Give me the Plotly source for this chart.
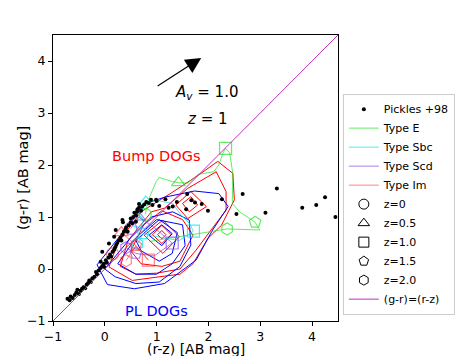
import plotly.graph_objects as go

# === DATA ===
# Pickles (1998) stellar library colours
pick_rz = [-0.72, -0.68, -0.66, -0.62, -0.58, -0.55, -0.53, -0.50, -0.47, -0.44, -0.41, -0.38,
           -0.35, -0.32, -0.30, -0.27, -0.24, -0.20, -0.17, -0.15, -0.12, -0.08, -0.05, -0.02,
           0.02, 0.04, 0.07, 0.10, 0.12, 0.15, 0.18, 0.20, 0.22, 0.24, 0.27, 0.30, 0.32, 0.34,
           0.37, 0.40, 0.41, 0.44, 0.46, 0.50, 0.50, 0.53, 0.55, 0.57, 0.60, 0.62, 0.63, 0.66,
           0.66, 0.70, 0.72, 0.76, 0.80, 0.85, 0.89, 0.92, 0.99, 1.00, 1.05, 1.17, 1.23, 1.31,
           1.39, 1.57, 1.59, 1.67, 1.74, 1.87, 1.99, 2.26, 2.54, 2.66, 3.10, 3.32, 3.81, 4.08,
           4.25, 4.45, 0.08, 0.18, 0.34, -0.05, 0.21, 0.35, 0.60, -0.08, -0.01]
pick_gr = [-0.57, -0.60, -0.53, -0.56, -0.50, -0.45, -0.40, -0.48, -0.42, -0.38, -0.35, -0.37,
           -0.30, -0.27, -0.22, -0.25, -0.18, -0.15, -0.06, -0.10, -0.03, 0.02, 0.06, 0.10,
           0.17, 0.12, 0.22, 0.28, 0.24, 0.33, 0.37, 0.42, 0.46, 0.50, 0.55, 0.60, 0.55, 0.66,
           0.72, 0.76, 0.80, 0.72, 0.84, 0.90, 0.97, 0.88, 1.00, 1.08, 1.03, 1.10, 1.15, 1.18,
           1.25, 1.12, 1.20, 1.24, 1.29, 1.27, 1.33, 1.23, 1.33, 1.31, 1.21, 1.34, 1.18, 1.20,
           1.29, 1.15, 1.44, 1.32, 1.28, 1.25, 1.12, 1.34, 1.06, 1.44, 1.08, 1.55, 1.18, 1.23,
           1.38, 1.00, 0.49, 0.62, 0.94, 0.33, 0.75, 0.90, 0.91, 0.14, 0.04]

# Bump DOGs density contours (outer -> inner)
bump_contours = [
    ([0.08, 0.25, 0.70, 1.28, 1.80, 2.18, 2.47, 2.50, 2.25, 1.99, 1.70, 1.45, 1.05, 0.53, 0.08],
     [0.04, 0.50, 1.10, 1.46, 1.80, 2.07, 1.84, 1.33, 0.84, 0.59, 0.10, -0.10, -0.15, -0.22, 0.04]),
    ([0.30, 0.45, 0.90, 1.15, 1.60, 2.15, 2.34, 2.34, 2.05, 1.75, 1.45, 1.00, 0.60, 0.30],
     [0.05, 0.55, 1.10, 1.17, 1.55, 1.87, 1.49, 1.13, 0.75, 0.35, 0.00, -0.08, -0.10, 0.05]),
    ([0.50, 0.75, 1.10, 1.50, 1.70, 1.45, 1.10, 0.70, 0.50],
     [0.35, 0.85, 1.12, 0.95, 0.65, 0.15, 0.05, 0.10, 0.35]),
    ([0.76, 1.12, 1.44, 1.12, 0.76], [0.65, 0.94, 0.62, 0.30, 0.65]),
    ([0.92, 1.10, 1.28, 1.10, 0.92], [0.66, 0.84, 0.66, 0.49, 0.66]),
    ([1.02, 1.10, 1.18, 1.10, 1.02], [0.66, 0.74, 0.66, 0.58, 0.66]),
    ([1.37, 1.66, 1.96, 1.60, 1.37], [1.23, 1.49, 1.20, 0.97, 1.23]),
    ([1.50, 1.66, 1.79, 1.63, 1.50], [1.26, 1.39, 1.23, 1.10, 1.26]),
]

# PL DOGs density contours (outer -> inner)
pl_contours = [
    ([-0.15, 0.30, 0.79, 1.15, 1.73, 2.20, 2.38, 2.08, 1.76, 1.15, 0.57, 0.05, -0.15],
     [0.08, 0.65, 1.26, 1.38, 1.50, 1.45, 1.20, 0.75, 0.17, -0.28, -0.38, -0.30, 0.08]),
    ([0.00, 0.50, 0.90, 1.31, 1.63, 1.66, 1.45, 1.05, 0.60, 0.20, 0.00],
     [0.00, 0.60, 1.00, 1.10, 0.94, 0.46, 0.05, -0.25, -0.28, -0.15, 0.00]),
    ([0.25, 0.60, 1.00, 1.50, 1.55, 1.30, 1.00, 0.60, 0.25],
     [0.10, 0.60, 0.95, 0.85, 0.45, 0.10, -0.10, -0.10, 0.10]),
    ([0.60, 1.05, 1.40, 1.30, 1.05, 0.70, 0.60], [0.55, 0.95, 0.70, 0.30, 0.15, 0.35, 0.55]),
    ([0.85, 1.10, 1.30, 1.10, 0.85], [0.65, 0.85, 0.68, 0.45, 0.65]),
]

# galaxy template tracks (r-z, g-r) and positions at z = 0, 0.5, 1.0, 1.5, 2.0
e_rz = [0.78, 0.84, 0.99, 1.05, 1.31, 1.42, 1.60, 1.80, 2.10, 2.20, 2.28, 2.33, 2.41, 2.47,
        2.46, 2.60, 2.90, 2.99, 2.36, 0.86]
e_gr = [1.05, 1.33, 1.68, 1.76, 1.68, 1.66, 1.65, 1.82, 1.87, 2.00, 2.23, 2.32, 2.23, 1.84,
        1.26, 1.10, 0.90, 0.75, 0.77, 0.53]
e_zx = [0.78, 1.42, 2.33, 2.90, 2.36]
e_zy = [1.05, 1.66, 2.32, 0.90, 0.77]

sbc_rz = [0.62, 0.79, 1.00, 1.31, 1.47, 1.63, 1.71, 1.44, 1.10, 0.74, 0.63]
sbc_gr = [0.92, 1.29, 1.32, 1.26, 1.04, 0.88, 0.73, 0.55, 0.60, 0.68, 0.48]
sbc_zx = [0.62, 0.79, 1.71, 0.74, 0.63]
sbc_zy = [0.92, 1.29, 0.73, 0.68, 0.48]

scd_rz = [0.50, 0.65, 0.95, 1.30, 0.95, 0.60, 0.41]
scd_gr = [0.78, 1.00, 0.80, 0.50, 0.25, 0.30, 0.41]
scd_zx = [0.50, 0.65, 1.30, 0.60, 0.41]
scd_zy = [0.78, 1.00, 0.50, 0.30, 0.41]

im_rz = [0.15, 0.32, 0.55, 0.84, 0.60, 0.41]
im_gr = [0.29, 0.70, 0.50, 0.17, 0.45, 0.16]
im_zx = [0.15, 0.32, 0.84, 0.60, 0.41]
im_zy = [0.29, 0.70, 0.17, 0.45, 0.16]

z_labels = ["z=0", "z=0.5", "z=1.0", "z=1.5", "z=2.0"]
z_symbols = ["circle-open", "triangle-up-open", "square-open", "pentagon-open", "hexagon-open"]

one_to_one = [-1, 4.5]

FONT = "DejaVu Sans"

fig = go.Figure()

# contours
for cx, cy in bump_contours:
    fig.add_trace(go.Scatter(x=cx, y=cy, mode="lines", line=dict(color="red", width=1),
                             showlegend=False, hoverinfo="skip"))
for cx, cy in pl_contours:
    fig.add_trace(go.Scatter(x=cx, y=cy, mode="lines", line=dict(color="blue", width=1),
                             showlegend=False, hoverinfo="skip"))

# template tracks
tracks = [
    ("Type E", e_rz, e_gr, e_zx, e_zy, "rgba(20,225,20,0.65)"),
    ("Type Sbc", sbc_rz, sbc_gr, sbc_zx, sbc_zy, "rgba(0,225,235,0.7)"),
    ("Type Scd", scd_rz, scd_gr, scd_zx, scd_zy, "rgba(140,70,225,0.7)"),
    ("Type Im", im_rz, im_gr, im_zx, im_zy, "rgba(255,50,50,0.6)"),
]
for i, (name, tx, ty, zx, zy, col) in enumerate(tracks):
    fig.add_trace(go.Scatter(x=tx, y=ty, mode="lines", line=dict(color=col, width=1),
                             name=name, legendrank=2 + i))
    fig.add_trace(go.Scatter(x=zx, y=zy, mode="markers", showlegend=False,
                             marker=dict(symbol=z_symbols, size=12, color=col,
                                         line=dict(color=col, width=1.2))))

# stars
fig.add_trace(go.Scatter(x=pick_rz, y=pick_gr, mode="markers", name="Pickles +98",
                         marker=dict(color="black", size=4), legendrank=1))

# redshift marker legend entries
for i, (lab, sym) in enumerate(zip(z_labels, z_symbols)):
    fig.add_trace(go.Scatter(x=[None], y=[None], mode="markers", name=lab, legendrank=10 + i,
                             marker=dict(symbol=sym, size=10, color="black",
                                         line=dict(color="black", width=1))))

# 1:1 line
fig.add_trace(go.Scatter(x=one_to_one, y=one_to_one, mode="lines", name="(g-r)=(r-z)",
                         line=dict(color="#c030c0", width=1), legendrank=20))

# reddening vector and labels
fig.add_annotation(x=1.86, y=4.06, ax=0.99, ay=3.5, xref="x", yref="y", axref="x", ayref="y",
                   text="", showarrow=True, arrowhead=2, arrowsize=2.6, arrowwidth=1.2,
                   arrowcolor="black")
fig.add_annotation(x=1.96, y=3.39, xref="x", yref="y", showarrow=False,
                   text="<i>A</i><sub><i>v</i></sub> = 1.0",
                   font=dict(size=15, color="black", family=FONT))
fig.add_annotation(x=1.99, y=2.89, xref="x", yref="y", showarrow=False,
                   text="<i>z</i> = 1", font=dict(size=15, color="black", family=FONT))
fig.add_annotation(x=0.99, y=2.18, xref="x", yref="y", showarrow=False,
                   text="Bump DOGs", font=dict(size=14.5, color="red", family=FONT))
fig.add_annotation(x=0.99, y=-0.81, xref="x", yref="y", showarrow=False,
                   text="PL DOGs", font=dict(size=14.5, color="blue", family=FONT))

# axis titles
fig.add_annotation(x=0.5, y=-0.098, xref="paper", yref="paper", yanchor="middle",
                   showarrow=False, text="(r-z) [AB mag]",
                   font=dict(size=14, color="black", family=FONT))
fig.add_annotation(x=-0.105, y=0.5, xref="paper", yref="paper", xanchor="center",
                   showarrow=False, textangle=-90, text="(g-r) [AB mag]",
                   font=dict(size=14.5, color="black", family=FONT))

axis_style = dict(range=[-1, 4.5], showgrid=False, zeroline=False, showline=True, mirror=True,
                  linecolor="black", linewidth=1, ticks="outside", ticklen=4, tickcolor="black",
                  tickfont=dict(size=12.5, color="black", family=FONT), dtick=1,
                  automargin=False)

fig.update_layout(
    width=463, height=356,
    margin=dict(l=53, r=125, t=35, b=35, autoexpand=False),
    paper_bgcolor="white", plot_bgcolor="white",
    font=dict(family=FONT, color="black"),
    xaxis=dict(axis_style),
    yaxis=dict(axis_style),
    legend=dict(x=1.017, y=0.795, xanchor="left", yanchor="top", font=dict(size=11),
                bordercolor="#cccccc", borderwidth=1, bgcolor="white", tracegroupgap=0,
                itemwidth=30),
    showlegend=True,
)

fig.write_html("out.html", config={"displayModeBar": False},
               post_script="document.body.style.margin='0';")
